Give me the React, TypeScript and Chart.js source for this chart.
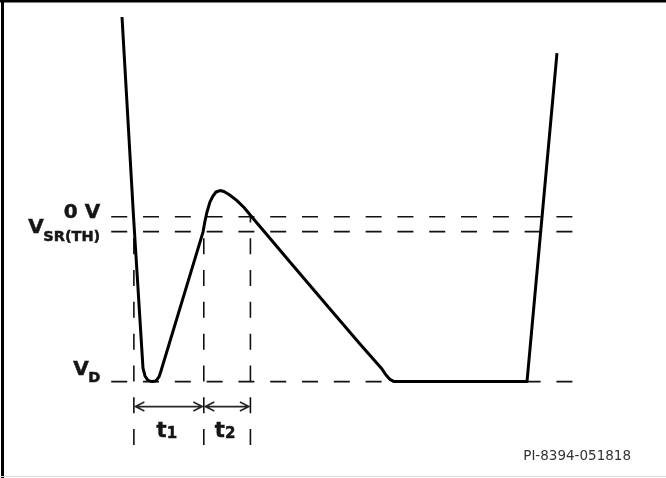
import React, { useEffect, useRef } from "react";
import { Chart, registerables } from "chart.js";

Chart.register(...registerables);

// Waveform: time (µs) vs drain voltage (V, normalized so V_D = -1)
const TIME_US = [1.832, 2.005, 2.147, 2.177, 2.222, 2.282, 2.342, 2.387, 2.417, 3.048, 3.078, 3.108, 3.153, 3.198, 3.243, 3.303, 3.363, 3.438, 3.554, 3.664, 3.779, 4.354, 4.955, 5.405, 5.736, 5.796, 5.856, 5.916, 7.913, 8.363];
const VOLTAGE = [1.212, 0.0, -0.918, -0.966, -0.993, -1.0, -0.996, -0.972, -0.936, -0.093, -0.026, 0.029, 0.09, 0.126, 0.15, 0.159, 0.153, 0.135, 0.099, 0.056, 0.0, -0.275, -0.56, -0.772, -0.924, -0.96, -0.987, -1.0, -1.0, 0.993];

// Reference levels
const LEVEL_NAMES = ["0 V", "VSR(TH)", "VD"];
const LEVEL_VALUES = [0, -0.09, -1.0];

// Reference lines extent
const H_LINE_START = 1.67;
const H_LINE_END = 8.63;
const V_LINE_BOTTOM = -1.385;

// Time markers: t1 start, t1 end / t2 start, t2 end
const MARKER_TIMES = [2.01, 3.06, 3.76];
const MARKER_TOPS = [-0.09, -0.09, 0];
const INTERVAL_LABELS = ["1", "2"];

const FIGURE_ID = "PI-8394-051818";

const X_MIN = 0;
const X_MAX = 10;
const Y_MIN = -1.585;
const Y_MAX = 1.315;

const DASH = [16, 15.8];
const LABEL_FONT = '"DejaVu Sans", Verdana, sans-serif';

const overlayPlugin = {
  id: "overlay",
  beforeDraw(chart: any) {
    const { ctx, width, height } = chart;
    ctx.save();
    ctx.fillStyle = "#ffffff";
    ctx.fillRect(0, 0, width, height);
    ctx.restore();
  },
  afterDraw(chart: any) {
    const { ctx, width, height } = chart;
    const xs = chart.scales.x;
    const ys = chart.scales.y;
    ctx.save();
    // frame
    ctx.fillStyle = "#000";
    ctx.fillRect(0, 0, width, 2.5);
    ctx.fillRect(1, 0, 3, height);
    ctx.fillStyle = "#d8d8d8";
    ctx.fillRect(0, height - 2, width, 1);

    const labelRight = xs.getPixelForValue(H_LINE_START) - 11;
    ctx.fillStyle = "#161616";
    ctx.strokeStyle = "#161616";
    ctx.lineWidth = 0.5;
    ctx.textBaseline = "alphabetic";
    const txt = (s: string, x: number, y: number) => {
      ctx.fillText(s, x, y);
      ctx.strokeText(s, x, y);
    };

    // 0 V
    const y0 = ys.getPixelForValue(LEVEL_VALUES[0]);
    ctx.font = `bold 20px ${LABEL_FONT}`;
    ctx.textAlign = "right";
    txt(LEVEL_NAMES[0], labelRight, y0 + 1.5);

    // V with subscript
    const drawSub = (main: string, sub: string, right: number, yMain: number, ySub: number) => {
      ctx.font = `bold 14.5px ${LABEL_FONT}`;
      const ws = ctx.measureText(sub).width;
      ctx.textAlign = "left";
      txt(sub, right - ws, ySub);
      ctx.font = `bold 20px ${LABEL_FONT}`;
      ctx.textAlign = "right";
      txt(main, right - ws + 0.5, yMain);
    };
    const ySr = ys.getPixelForValue(LEVEL_VALUES[1]);
    drawSub("V", "SR(TH)", labelRight, ySr + 1.5, ySr + 9.5);
    const yD = ys.getPixelForValue(LEVEL_VALUES[2]);
    drawSub("V", "D", labelRight, yD - 6.5, yD + 0.5);

    // interval arrows
    const yArrow = yD + 25;
    ctx.strokeStyle = "#262626";
    ctx.lineWidth = 1.6;
    for (let i = 0; i < 2; i++) {
      const xa = xs.getPixelForValue(MARKER_TIMES[i]) + 1.5;
      const xb = xs.getPixelForValue(MARKER_TIMES[i + 1]) - 1.5;
      ctx.beginPath();
      ctx.moveTo(xa, yArrow);
      ctx.lineTo(xb, yArrow);
      ctx.moveTo(xa + 9, yArrow - 4.5);
      ctx.lineTo(xa, yArrow);
      ctx.lineTo(xa + 9, yArrow + 4.5);
      ctx.moveTo(xb - 9, yArrow - 4.5);
      ctx.lineTo(xb, yArrow);
      ctx.lineTo(xb - 9, yArrow + 4.5);
      ctx.stroke();

      // t label
      const mid = (xa + xb) / 2 - 2;
      ctx.font = `bold 21px ${LABEL_FONT}`;
      const wt = ctx.measureText("t").width;
      ctx.font = `bold 15px ${LABEL_FONT}`;
      const w1 = ctx.measureText(INTERVAL_LABELS[i]).width;
      const left = mid - (wt + w1) / 2;
      ctx.textAlign = "left";
      ctx.fillStyle = "#161616";
      ctx.strokeStyle = "#161616";
      ctx.lineWidth = 0.5;
      ctx.font = `bold 21px ${LABEL_FONT}`;
      txt("t", left, yArrow + 30);
      ctx.font = `bold 15px ${LABEL_FONT}`;
      txt(INTERVAL_LABELS[i], left + wt, yArrow + 31.5);
      ctx.strokeStyle = "#262626";
      ctx.lineWidth = 1.6;
    }

    // figure id
    ctx.font = `13.5px ${LABEL_FONT}`;
    ctx.fillStyle = "#333";
    ctx.textAlign = "right";
    ctx.fillText(FIGURE_ID, 631, 460);
    ctx.restore();
  },
};

export default function App() {
  const ref = useRef<HTMLCanvasElement | null>(null);

  useEffect(() => {
    if (!ref.current) return;
    const dashStyle = {
      borderColor: "#111",
      borderWidth: 1.6,
      borderDash: DASH,
      pointRadius: 0,
      tension: 0,
      fill: false,
    };
    const hLines = LEVEL_VALUES.map((v) => ({
      ...dashStyle,
      data: [
        { x: H_LINE_START, y: v },
        { x: H_LINE_END, y: v },
      ],
    }));
    const vLines = MARKER_TIMES.map((t, i) => ({
      ...dashStyle,
      data: [
        { x: t, y: V_LINE_BOTTOM },
        { x: t, y: MARKER_TOPS[i] },
      ],
    }));
    const chart = new Chart(ref.current, {
      type: "line",
      data: {
        datasets: [
          {
            data: TIME_US.map((t, i) => ({ x: t, y: VOLTAGE[i] })),
            borderColor: "#000",
            borderWidth: 3,
            pointRadius: 0,
            tension: 0,
            borderJoinStyle: "round",
            fill: false,
          } as any,
          ...hLines,
          ...vLines,
        ],
      },
      options: {
        animation: false,
        responsive: false,
        devicePixelRatio: 1,
        layout: { padding: 0, autoPadding: false },
        plugins: { legend: { display: false }, tooltip: { enabled: false } },
        scales: {
          x: { type: "linear", min: X_MIN, max: X_MAX, display: false },
          y: { type: "linear", min: Y_MIN, max: Y_MAX, display: false },
        },
      } as any,
      plugins: [overlayPlugin],
    });
    return () => chart.destroy();
  }, []);

  return (
    <div style={{ position: "fixed", left: 0, top: 0, width: 666, height: 478, background: "#fff" }}>
      <canvas ref={ref} width={666} height={478} style={{ width: 666, height: 478, display: "block" }} />
    </div>
  );
}
